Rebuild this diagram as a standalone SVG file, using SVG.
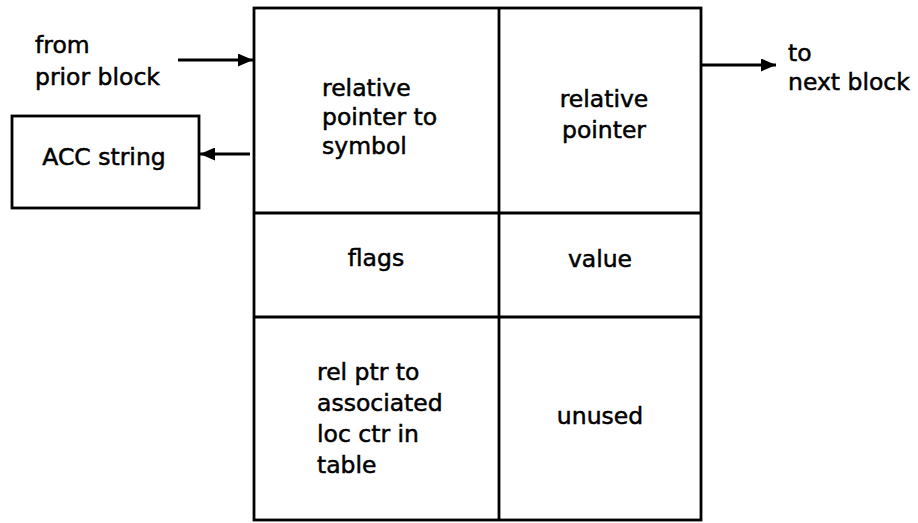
<svg xmlns="http://www.w3.org/2000/svg" width="918" height="523" viewBox="0 0 918 523">
  <style>
    text { font-family: "DejaVu Sans", "Liberation Sans", sans-serif; font-size: 23.5px; fill: #000; stroke: #000; stroke-width: 0.5; }
    .c { text-anchor: middle; }
    .box { fill: none; stroke: #000; stroke-width: 2.8; }
    .ln { fill: none; stroke: #000; stroke-width: 2.8; }
    .conn { fill: none; stroke: #000; stroke-width: 2.8; marker-end: url(#ah); }
  </style>
  <defs>
    <marker id="ah" markerUnits="userSpaceOnUse" markerWidth="15" markerHeight="13" refX="15" refY="6.5" orient="auto">
      <path d="M0,0 L15,6.5 L0,13 z" fill="#000"/>
    </marker>
  </defs>
  <rect width="918" height="523" fill="#fff"/>

  <g id="labels-left">
    <text x="35" y="53">from</text>
    <text x="35" y="85">prior block</text>
  </g>
  <g id="labels-right">
    <text x="788" y="61">to</text>
    <text x="788" y="90">next block</text>
  </g>

  <g id="acc-string">
    <rect class="box" x="12" y="116" width="187" height="92"/>
    <text class="c" x="104" y="165">ACC string</text>
  </g>

  <g id="block">
    <rect class="box" x="254" y="8" width="447" height="512"/>
    <line class="ln" x1="499" y1="8" x2="499" y2="520"/>
    <line class="ln" x1="254" y1="213" x2="701" y2="213"/>
    <line class="ln" x1="254" y1="317" x2="701" y2="317"/>
  </g>

  <g id="cell-symbol">
    <text x="322" y="96">relative</text>
    <text x="322" y="125">pointer to</text>
    <text x="322" y="154">symbol</text>
  </g>
  <g id="cell-pointer">
    <text class="c" x="604" y="107">relative</text>
    <text class="c" x="604" y="138">pointer</text>
  </g>
  <g id="cell-flags">
    <text class="c" x="376" y="266">flags</text>
  </g>
  <g id="cell-value">
    <text class="c" x="600" y="267">value</text>
  </g>
  <g id="cell-relptr">
    <text x="317" y="380">rel ptr to</text>
    <text x="317" y="411">associated</text>
    <text x="317" y="442">loc ctr in</text>
    <text x="317" y="473">table</text>
  </g>
  <g id="cell-unused">
    <text class="c" x="600" y="424">unused</text>
  </g>

  <g id="connectors">
    <line class="conn" x1="178" y1="60" x2="253" y2="60"/>
    <line class="conn" x1="250" y1="154" x2="200" y2="154"/>
    <line class="conn" x1="702" y1="65" x2="776" y2="65"/>
  </g>
</svg>
